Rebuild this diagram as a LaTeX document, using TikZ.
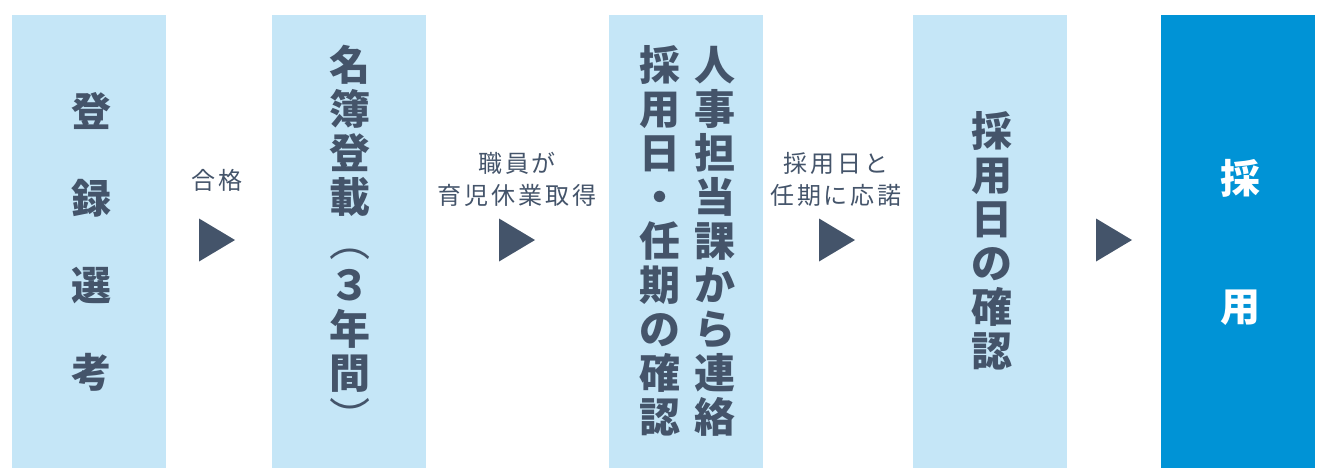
\documentclass[tikz,border=0pt]{standalone}
\usepackage{fontspec}
\usepackage{graphicx}
\setmainfont{Noto Sans CJK JP}
\newfontfamily\notefont{Noto Sans CJK JP}[LetterSpace=12]
\definecolor{stagelight}{HTML}{C5E6F7}
\definecolor{stagedark}{HTML}{0093D6}
\definecolor{inkgray}{HTML}{44546A}
\newcommand{\tateparen}[1]{\mdseries\rotatebox[origin=c]{-90}{#1}}

\begin{document}
\begin{tikzpicture}[x=1pt,y=-1pt,
		stage/.style={fill=stagelight, minimum width=154pt, minimum height=453pt, inner sep=0pt, outer sep=0pt, anchor=north west},
		tate/.style={text=inkgray, font=\bfseries\fontsize{41}{44}\selectfont, align=center, inner sep=0pt},
		pointer/.style={fill=inkgray},
		note/.style={text=inkgray, font=\notefont\fontsize{24}{32}\selectfont, align=center, inner sep=0pt}]
			\useasboundingbox (0,0) rectangle (1327,475);
			% stages
			\node [stage] (touroku) at (12,15) {};
			\node [stage] (meibo) at (272,15) {};
			\node [stage] (renraku) at (609,15) {};
			\node [stage] (kakunin) at (913,15) {};
			\node [stage, fill=stagedark] (saiyou) at (1161,15) {};
			% texts in the stages
			\node [tate, font=\bfseries\fontsize{40}{87}\selectfont] (touroku text) at (91,242) {登\\録\\選\\考};
			\node [tate] (meibo text) at (350,241) {名\\簿\\登\\載\\\tateparen{（}\\３\\年\\間\\\tateparen{）}};
			\node [tate] (renraku right) at (715,241) {人\\事\\担\\当\\課\\か\\ら\\連\\絡};
			\node [tate] (renraku left) at (660,241) {採\\用\\日\\・\\任\\期\\の\\確\\認};
			\node [tate] (kakunin text) at (992,241) {採\\用\\日\\の\\確\\認};
			\node [tate, text=white, font=\bfseries\fontsize{40}{128}\selectfont] (saiyou text) at (1240,242) {採\\用};
			% pointers between the stages
			\coordinate (p1) at (199,240);
			\coordinate (p2) at (499,240);
			\coordinate (p3) at (819,240);
			\coordinate (p4) at (1096,240);
			\foreach \p in {p1,p2,p3,p4}
				\fill [pointer] (\p) ++(0,-21.5) -- ++(36,21.5) -- ++(-36,21.5) -- cycle;
			\node [note] (p1 note) at (217,180) {合格};
			\node [note] (p2 note) at (517,179) {職員が\\育児休業取得};
			\node [note] (p3 note) at (836,179) {採用日と\\任期に応諾};
		\end{tikzpicture}
\end{document}
